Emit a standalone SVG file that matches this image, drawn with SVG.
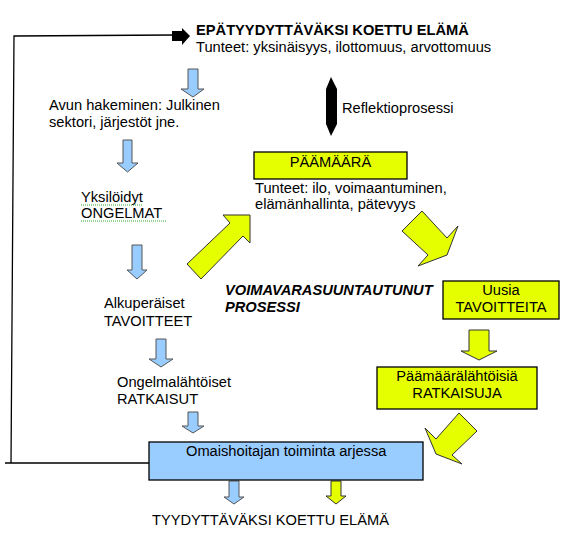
<svg xmlns="http://www.w3.org/2000/svg" width="567" height="537" viewBox="0 0 567 537">
<style>
text{font-family:"Liberation Sans",Arial,sans-serif;font-size:14.67px;fill:#000}
.b{font-weight:bold}
.bi{font-weight:bold;font-style:italic}
.ybox{fill:#E6FF00;stroke:#000;stroke-width:1.3}
.bbox{fill:#99CCFF;stroke:#000;stroke-width:1.3}
.barr{fill:#99CCFF;stroke:#555;stroke-width:1}
.yarr{fill:#E6FF00;stroke:#333;stroke-width:1}
.line{fill:none;stroke:#000;stroke-width:1.3}
.wavy{fill:none;stroke:#3a3;stroke-width:1;stroke-dasharray:1 1}
</style>
<rect width="567" height="537" fill="#fff"/>
<g id="connectors">
  <path class="line" d="M149,463 L5,463 M11,463 L14,36 L173,35"/>
  <polygon fill="#000" points="172,31 182,31 182,28 190,36 182,45 182,41 172,41"/>
  <polygon fill="#000" points="331,77 337,89 337,124 331,136 326,124 326,89"/>
  <polygon class="barr" points="188,69 198,69 198,89 204,89 193,97 181,89 188,89"/>
  <polygon class="barr" points="123,140 132,140 132,163 138,163 127.5,172 117,163 123,163"/>
  <polygon class="barr" points="132,245 142,245 142,270 147,270 137,279 127,270 132,270"/>
  <polygon class="barr" points="156,339 166,339 166,359 173,359 161,367 149,359 156,359"/>
  <polygon class="barr" points="188,412 198,412 198,426 204,426 193,433 182,426 188,426"/>
  <polygon class="barr" points="229,481 239,481 239,497 244,497 234,504 224,497 229,497"/>
  <polygon class="yarr" points="331,481 341,481 341,496 346,496 336,504 326,496 331,496"/>
  <polygon class="yarr" points="250,215 250,243 243,236 201,279 187,264 230,223 223,215"/>
  <polygon class="yarr" points="422,211 402,231 428,255 418,266 447,255 458,226 447,238"/>
  <polygon class="yarr" points="469,330 489,330 489,351 497,351 479,360 461,351 469,351"/>
  <polygon class="yarr" points="459,413 477,431 452,455 462,464 436,454 425,428 436,439"/>
</g>
<g id="title">
  <text class="b" x="196" y="35">EPÄTYYDYTTÄVÄKSI KOETTU ELÄMÄ</text>
  <text x="196" y="52">Tunteet: yksinäisyys, ilottomuus, arvottomuus</text>
</g>
<g id="reflektio">
  <text x="342" y="113">Reflektioprosessi</text>
</g>
<g id="avun">
  <text x="49" y="110">Avun hakeminen: Julkinen</text>
  <text x="49" y="127">sektori, järjestöt jne.</text>
</g>
<g id="ongelmat">
  <text x="81" y="202">Yksilöidyt</text>
  <text x="81" y="218">ONGELMAT</text>
  <path class="wavy" d="M81,205 H143 M81,221 H166"/>
</g>
<g id="tavoitteet">
  <text x="104" y="308">Alkuperäiset</text>
  <text x="104" y="326">TAVOITTEET</text>
</g>
<g id="ratkaisut">
  <text x="117" y="387">Ongelmalähtöiset</text>
  <text x="117" y="404">RATKAISUT</text>
</g>
<g id="paamaara">
  <rect class="ybox" x="254" y="152" width="153" height="27"/>
  <text x="330.5" y="167" text-anchor="middle">PÄÄMÄÄRÄ</text>
  <text x="255" y="193">Tunteet: ilo, voimaantuminen,</text>
  <text x="255" y="209">elämänhallinta, pätevyys</text>
</g>
<g id="prosessi">
  <text class="bi" x="225" y="295">VOIMAVARASUUNTAUTUNUT</text>
  <text class="bi" x="225" y="312">PROSESSI</text>
</g>
<g id="uusia">
  <rect class="ybox" x="443" y="281" width="116" height="38"/>
  <text x="501" y="295" text-anchor="middle">Uusia</text>
  <text x="501" y="312" text-anchor="middle">TAVOITTEITA</text>
</g>
<g id="paamaaralahtoisia">
  <rect class="ybox" x="377" y="367" width="160" height="42"/>
  <text x="457" y="381" text-anchor="middle">Päämäärälähtöisiä</text>
  <text x="457" y="398" text-anchor="middle">RATKAISUJA</text>
</g>
<g id="omaishoitaja">
  <rect class="bbox" x="149" y="442" width="274" height="38"/>
  <text x="186" y="456">Omaishoitajan toiminta arjessa</text>
</g>
<g id="tyydyttava">
  <text x="152" y="525">TYYDYTTÄVÄKSI KOETTU ELÄMÄ</text>
</g>
</svg>
